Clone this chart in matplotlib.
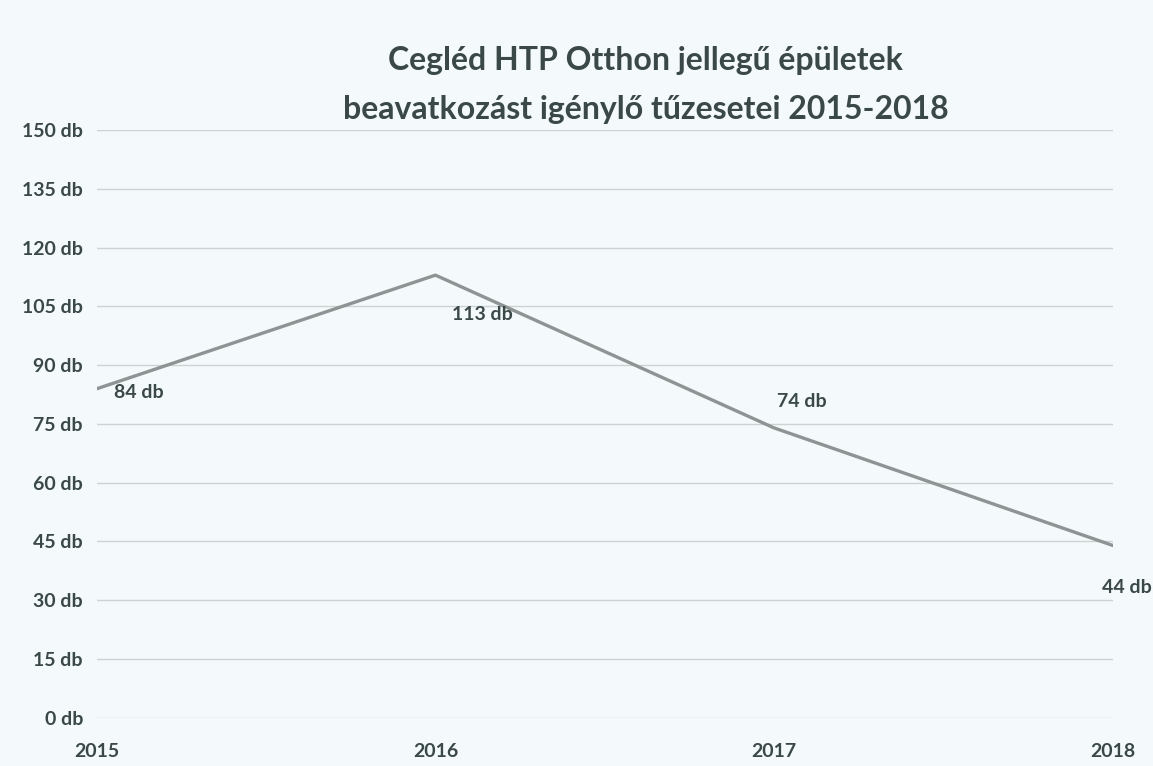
import matplotlib.pyplot as plt
import matplotlib.ticker as mticker

# adatok
years = [2015, 2016, 2017, 2018]
fires = [84, 113, 74, 44]
yticks = list(range(0, 151, 15))

# cimke eltolasok (pontokban)
label_offsets = [(30, -3), (34, -28), (20, 19), (10, -30)]

txt = '#3b4848'
bg = '#f4fafb'

plt.rcParams['font.family'] = ['Lato', 'DejaVu Sans']

fig = plt.figure(figsize=(11.53, 7.66), dpi=100, facecolor=bg)
ax = fig.add_axes([0.084, 0.063, 0.881, 0.767], facecolor=bg)

ax.plot(years, fires, color='#8e9393', linewidth=2.4, zorder=3)

for x, y, (dx, dy) in zip(years, fires, label_offsets):
    ax.annotate(f'{y} db', (x, y), xytext=(dx, dy), textcoords='offset points',
                ha='center', va='center', fontsize=14, fontweight='bold', color=txt)

ax.set_ylim(0, 150)
ax.set_xlim(2015, 2018)
ax.set_yticks(yticks)
ax.yaxis.set_major_formatter(mticker.FuncFormatter(lambda v, p: f'{int(v)} db'))
ax.set_xticks(years)
ax.grid(axis='y', color='#cdd2d2', linewidth=1.0)
ax.set_axisbelow(True)
for s in ax.spines.values():
    s.set_visible(False)
ax.tick_params(axis='y', length=0, labelsize=14, labelcolor=txt, pad=10)
ax.tick_params(axis='x', length=0, labelsize=14, labelcolor=txt, pad=18)
for lab in ax.get_xticklabels() + ax.get_yticklabels():
    lab.set_fontweight('bold')

fig.text(0.56, 0.889, 'Cegléd HTP Otthon jellegű épületek\nbeavatkozást igénylő tűzesetei 2015-2018',
         ha='center', va='center', fontsize=23, fontweight='bold', color=txt, linespacing=1.8)

fig.savefig('out.png', dpi=100, facecolor=bg)
